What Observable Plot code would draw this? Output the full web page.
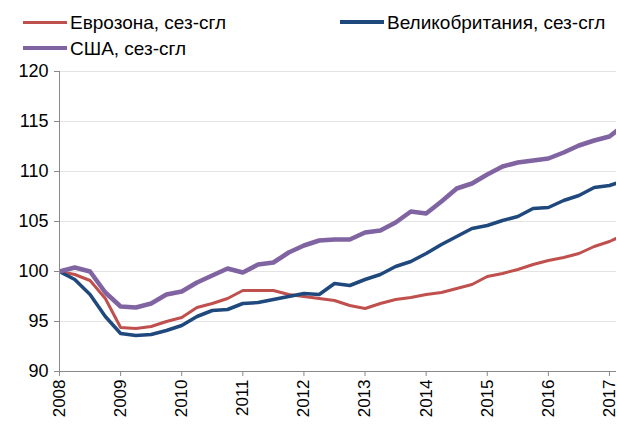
<!DOCTYPE html>
<html>
<head>
<meta charset="utf-8">
<script src="https://cdn.jsdelivr.net/npm/d3@7"></script>
<script src="https://cdn.jsdelivr.net/npm/@observablehq/plot@0.6"></script>
<style>
  html, body { margin: 0; padding: 0; background: #fff; }
  #wrap { position: relative; width: 617px; height: 425px; font-family: "Liberation Sans", Arial, sans-serif; }
  #legend { position: relative; width: 617px; height: 60px; }
  .item { position: absolute; display: flex; align-items: center; font-size: 19px; color: #000; white-space: nowrap; line-height: 1; }
  .swatch { display: inline-block; width: 44px; margin-right: 3px; }
</style>
</head>
<body>
<div id="wrap">
  <div id="legend"></div>
  <div id="chart"></div>
</div>
<script>
const quarters = [
  "2008Q1","2008Q2","2008Q3","2008Q4",
  "2009Q1","2009Q2","2009Q3","2009Q4",
  "2010Q1","2010Q2","2010Q3","2010Q4",
  "2011Q1","2011Q2","2011Q3","2011Q4",
  "2012Q1","2012Q2","2012Q3","2012Q4",
  "2013Q1","2013Q2","2013Q3","2013Q4",
  "2014Q1","2014Q2","2014Q3","2014Q4",
  "2015Q1","2015Q2","2015Q3","2015Q4",
  "2016Q1","2016Q2","2016Q3","2016Q4",
  "2017Q1","2017Q2"
];
const euro = [
  100, 99.7, 99.1, 97.3,
  94.4, 94.3, 94.5, 95.0,
  95.4, 96.4, 96.8, 97.3,
  98.1, 98.1, 98.1, 97.7,
  97.5, 97.3, 97.1, 96.6,
  96.3, 96.8, 97.2, 97.4,
  97.7, 97.9, 98.3, 98.7,
  99.5, 99.8, 100.2, 100.7,
  101.1, 101.4, 101.8, 102.5,
  103.0, 103.7
];
const uk = [
  100, 99.2, 97.7, 95.5,
  93.8, 93.6, 93.7, 94.1,
  94.6, 95.5, 96.1, 96.2,
  96.8, 96.9, 97.2, 97.5,
  97.8, 97.7, 98.8, 98.6,
  99.2, 99.7, 100.5, 101.0,
  101.8, 102.7, 103.5, 104.3,
  104.6, 105.1, 105.5, 106.3,
  106.4, 107.1, 107.6, 108.4,
  108.6, 109.1
];
const usa = [
  100, 100.4, 100.0, 97.9,
  96.5, 96.4, 96.8, 97.7,
  98.0, 98.9, 99.6, 100.3,
  99.9, 100.7, 100.9, 101.9,
  102.6, 103.1, 103.2, 103.2,
  103.9, 104.1, 104.9, 106.0,
  105.8, 107.0, 108.3, 108.8,
  109.7, 110.5, 110.9, 111.1,
  111.3, 111.9, 112.6, 113.1,
  113.5, 114.7
];
const seriesNames = ["Еврозона, сез-сгл", "Великобритания, сез-сгл", "США, сез-сгл"];
const seriesColors = ["#C0504D", "#1F497D", "#8064A2"];
const seriesWidths = [3, 3.5, 4.5];
const yTicks = [90, 95, 100, 105, 110, 115, 120];
const xTicks = [2008, 2009, 2010, 2011, 2012, 2013, 2014, 2015, 2016, 2017];

const toX = q => +q.slice(0, 4) + (+q.slice(5) - 1) / 4;
const seriesValues = [euro, uk, usa];
const rows = seriesValues.map((vals, s) => quarters.map((q, i) => ({t: toX(q), v: vals[i], s})));

// Legend
const legend = document.getElementById("legend");
const legendPos = [{left: 23, top: 22}, {left: 340, top: 22}, {left: 23, top: 48}];
seriesNames.forEach((name, i) => {
  const it = document.createElement("div");
  it.className = "item";
  it.style.left = legendPos[i].left + "px";
  it.style.top = (legendPos[i].top - 10) + "px";
  it.style.height = "20px";
  const sw = document.createElement("span");
  sw.className = "swatch";
  sw.style.height = seriesWidths[i] + "px";
  sw.style.background = seriesColors[i];
  const tx = document.createElement("span");
  tx.textContent = name;
  it.appendChild(sw);
  it.appendChild(tx);
  legend.appendChild(it);
});

const axisGray = "#898989";
const chart = Plot.plot({
  width: 617,
  height: 365,
  marginTop: 11,
  marginBottom: 54,
  marginLeft: 59,
  marginRight: 1,
  style: {fontFamily: "Liberation Sans, Arial, sans-serif", fontSize: "18px", color: "#000", background: "#fff", overflow: "visible"},
  x: {domain: [2008, 2017.115]},
  y: {domain: [90, 120]},
  marks: [
    Plot.gridY(yTicks.filter(d => d > 90), {stroke: "#e3e3e3", strokeOpacity: 1, strokeWidth: 1}),
    ...rows.map((r, s) => Plot.line(r, {x: "t", y: "v", stroke: seriesColors[s], strokeWidth: seriesWidths[s], strokeLinejoin: "round", clip: true})),
    Plot.ruleX([2008], {stroke: axisGray, strokeWidth: 1}),
    Plot.ruleY([90], {stroke: axisGray, strokeWidth: 1}),
    Plot.axisY({ticks: yTicks, tickSize: 5, tickPadding: 6, stroke: axisGray, label: null, fontSize: 18, fill: "#000"}),
    Plot.axisX({ticks: xTicks, tickFormat: d => String(d), tickRotate: -90, tickSize: 5, tickPadding: 3, stroke: axisGray, label: null, fontSize: 17, fill: "#000"})
  ]
});
document.getElementById("chart").appendChild(chart);
</script>
</body>
</html>
